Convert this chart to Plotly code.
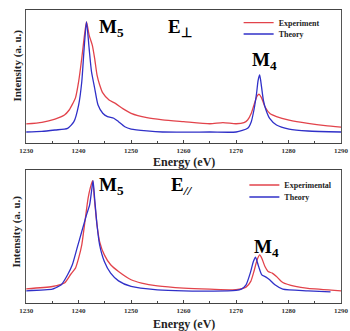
import plotly.graph_objects as go

# ---- data (top panel: E perpendicular) ----
top_exp_e = [1230, 1233, 1235.5, 1237.3, 1238.2, 1238.9, 1239.4, 1240.0, 1240.6, 1241.05, 1241.5,
             1242.0, 1242.6, 1243.05, 1243.5, 1244.0, 1244.6, 1245.8, 1247.0, 1248.5, 1250, 1253,
             1256, 1260, 1265, 1267.5, 1270, 1271.5, 1272.2, 1272.9, 1273.5, 1274.0, 1274.4, 1274.9,
             1275.5, 1276.5, 1277.7, 1280.1, 1283.7, 1287, 1290]
top_exp_i = [0.073, 0.088, 0.118, 0.155, 0.20, 0.26, 0.31, 0.457, 0.67, 0.855, 1.0,
             0.88, 0.79, 0.67, 0.52, 0.43, 0.355, 0.29, 0.26, 0.21, 0.17, 0.13,
             0.11, 0.094, 0.075, 0.085, 0.075, 0.085, 0.109, 0.17, 0.26, 0.327, 0.343, 0.306,
             0.23, 0.165, 0.14, 0.109, 0.079, 0.058, 0.045]
top_th_e = [1230, 1233, 1235.5, 1237.9, 1239.1, 1240.0, 1240.6, 1241.05, 1241.5, 1242.0, 1242.45,
            1243.05, 1243.7, 1244.6, 1245.5, 1246.7, 1247.6, 1248.8, 1250, 1253, 1256, 1265, 1270,
            1272.2, 1272.9, 1273.4, 1273.9, 1274.2, 1274.5, 1274.85, 1275.2, 1275.7, 1276.4, 1277.7,
            1280.1, 1283.7, 1290]
top_th_i = [0.0, 0.005, 0.018, 0.033, 0.094, 0.245, 0.457, 0.76, 1.0, 0.76, 0.55,
            0.40, 0.245, 0.17, 0.14, 0.125, 0.094, 0.048, 0.027, 0.01, 0.0, 0.0, 0.0,
            0.033, 0.094, 0.2, 0.35, 0.47, 0.518, 0.41, 0.29, 0.2, 0.124, 0.064,
            0.027, 0.009, 0.0]

# ---- data (bottom panel: E parallel) ----
bot_exp_e = [1230, 1235, 1237.3, 1238.5, 1239.4, 1240.0, 1240.6, 1241.2, 1241.8, 1242.2, 1242.65,
             1243.05, 1243.5, 1244.0, 1244.9, 1246.1, 1247.6, 1250, 1252, 1255, 1260, 1265, 1270,
             1271.9, 1272.8, 1273.4, 1274.0, 1274.5, 1274.9, 1275.5, 1276.1, 1276.9, 1277.7, 1278.9,
             1281.3, 1283.7, 1290]
bot_exp_i = [0.018, 0.039, 0.07, 0.15, 0.206, 0.296, 0.417, 0.628, 0.84, 0.93, 1.0,
             0.81, 0.6, 0.447, 0.326, 0.236, 0.175, 0.1, 0.07, 0.045, 0.025, 0.015, 0.01,
             0.033, 0.085, 0.175, 0.28, 0.326, 0.296, 0.22, 0.175, 0.16, 0.13, 0.075,
             0.039, 0.021, 0.0]
bot_th_e = [1230, 1235, 1235.5, 1236.7, 1237.9, 1238.8, 1239.7, 1240.6, 1241.5, 1242.1, 1242.45,
            1242.75, 1243.05, 1243.5, 1244.0, 1244.9, 1246.1, 1247.6, 1250, 1255, 1260, 1270,
            1271.0, 1271.9, 1272.7, 1273.3, 1273.7, 1274.3, 1274.9, 1275.7, 1276.4, 1277.4, 1278.9,
            1283.7, 1288]
bot_th_i = [0.0, 0.015, 0.024, 0.054, 0.145, 0.236, 0.387, 0.538, 0.69, 0.78, 0.9,
            1.0, 0.84, 0.6, 0.417, 0.266, 0.16, 0.09, 0.039, 0.009, 0.0, 0.003,
            0.015, 0.054, 0.16, 0.266, 0.305, 0.22, 0.145, 0.124, 0.1, 0.054, 0.015,
            0.0, -0.01]

x_ticks = [1230, 1240, 1250, 1260, 1270, 1280, 1290]

RED = "#E2434B"
BLUE = "#3030C8"
SERIF = "Liberation Serif, Times New Roman, serif"
W, H = 350, 331

fig = go.Figure()
line_kw = dict(shape="spline", smoothing=0.6, width=1.3)
fig.add_trace(go.Scatter(x=top_exp_e, y=top_exp_i, mode="lines", name="Experiment",
                         line=dict(color=RED, **line_kw), xaxis="x", yaxis="y", legend="legend"))
fig.add_trace(go.Scatter(x=top_th_e, y=top_th_i, mode="lines", name="Theory",
                         line=dict(color=BLUE, **line_kw), xaxis="x", yaxis="y", legend="legend2"))
fig.add_trace(go.Scatter(x=bot_exp_e, y=bot_exp_i, mode="lines", name="Experimental",
                         line=dict(color=RED, **line_kw), xaxis="x2", yaxis="y2", legend="legend3"))
fig.add_trace(go.Scatter(x=bot_th_e, y=bot_th_i, mode="lines", name="Theory",
                         line=dict(color=BLUE, **line_kw), xaxis="x2", yaxis="y2", legend="legend4"))

xdom = [20 / W, 349 / W]
top_dom = [(H - 143) / H, (H - 10) / H]
bot_dom = [(H - 303) / H, (H - 170) / H]

def xaxis(anchor):
    return dict(domain=xdom, anchor=anchor, range=[1230, 1290], tickvals=x_ticks,
                ticks="inside", ticklen=3, tickwidth=1, tickcolor="#444",
                minor=dict(dtick=5, tick0=1230, ticks="inside", ticklen=2, tickcolor="#444"),
                showline=True, linecolor="#444", linewidth=1, mirror=True,
                showgrid=False, zeroline=False, ticklabelstandoff=1,
                ticklabeloverflow="allow",
                tickfont=dict(family=SERIF, size=7, color="#333", weight="bold"))

def yaxis(anchor, dom, rng):
    return dict(domain=dom, anchor=anchor, range=rng, showticklabels=False, ticks="",
                showline=True, linecolor="#555", linewidth=1, mirror=True,
                showgrid=False, zeroline=False)

legfont = dict(family=SERIF, size=8, color="#222", weight="bold")

def leg(xpx, ycpx):
    return dict(x=xpx / W, y=(H - ycpx) / H, xanchor="left", yanchor="middle", font=legfont,
                bgcolor="rgba(0,0,0,0)", itemwidth=30, borderwidth=0)

fig.update_layout(
    width=W, height=H, margin=dict(l=0, r=0, t=0, b=0),
    paper_bgcolor="white", plot_bgcolor="white", showlegend=True,
    xaxis=xaxis("y"), yaxis=yaxis("x", top_dom, [-0.1, 1.109]),
    xaxis2=xaxis("y2"), yaxis2=yaxis("x2", bot_dom, [-0.111, 1.097]),
    legend=leg(242, 22.7),
    legend2=leg(242, 34),
    legend3=leg(248, 185),
    legend4=leg(248, 197),
)

big = dict(family=SERIF, size=19, color="black", weight="bold")
ann = [
    dict(text="M<sub>5</sub>", x=1246.2, y=0.82, xref="x", yref="y"),
    dict(text="E<sub>⊥</sub>", x=1259.3, y=0.82, xref="x", yref="y"),
    dict(text="M<sub>4</sub>", x=1275.5, y=0.52, xref="x", yref="y"),
    dict(text="M<sub>5</sub>", x=1246.2, y=0.82, xref="x2", yref="y2"),
    dict(text="E<sub><i>//</i></sub>", x=1259.6, y=0.82, xref="x2", yref="y2"),
    dict(text="M<sub>4</sub>", x=1275.8, y=0.26, xref="x2", yref="y2"),
]
for a in ann:
    fig.add_annotation(showarrow=False, font=big, xanchor="center", yanchor="bottom", **a)

tfont = dict(family=SERIF, size=12, color="#222", weight="bold")
yfont = dict(family=SERIF, size=11, color="#222", weight="bold")
fig.add_annotation(text="Energy (eV)", x=184.5 / W, y=(H - 162) / H, xref="paper", yref="paper",
                   showarrow=False, font=tfont, xanchor="center", yanchor="middle")
fig.add_annotation(text="Energy (eV)", x=184.5 / W, y=(H - 324) / H, xref="paper", yref="paper",
                   showarrow=False, font=tfont, xanchor="center", yanchor="middle")
fig.add_annotation(text="Intensity (a. u.)", x=10 / W, y=(H - 66) / H, xref="paper", yref="paper",
                   showarrow=False, font=yfont, textangle=-90, xanchor="center", yanchor="middle")
fig.add_annotation(text="Intensity (a. u.)", x=10 / W, y=(H - 232) / H, xref="paper", yref="paper",
                   showarrow=False, font=yfont, textangle=-90, xanchor="center", yanchor="middle")

fig.write_html(
    "out.html",
    config={"displayModeBar": False, "staticPlot": True},
    post_script=("document.documentElement.style.overflow='hidden';"
                 "document.body.style.margin='0';document.body.style.padding='0';"
                 "document.body.style.overflow='hidden';"
                 "var gd=document.getElementById('{plot_id}');gd.style.overflow='hidden';"
                 "gd.style.width='350px';"
                 "document.querySelectorAll('.main-svg').forEach(function(s){s.style.overflow='hidden';});"),
)
